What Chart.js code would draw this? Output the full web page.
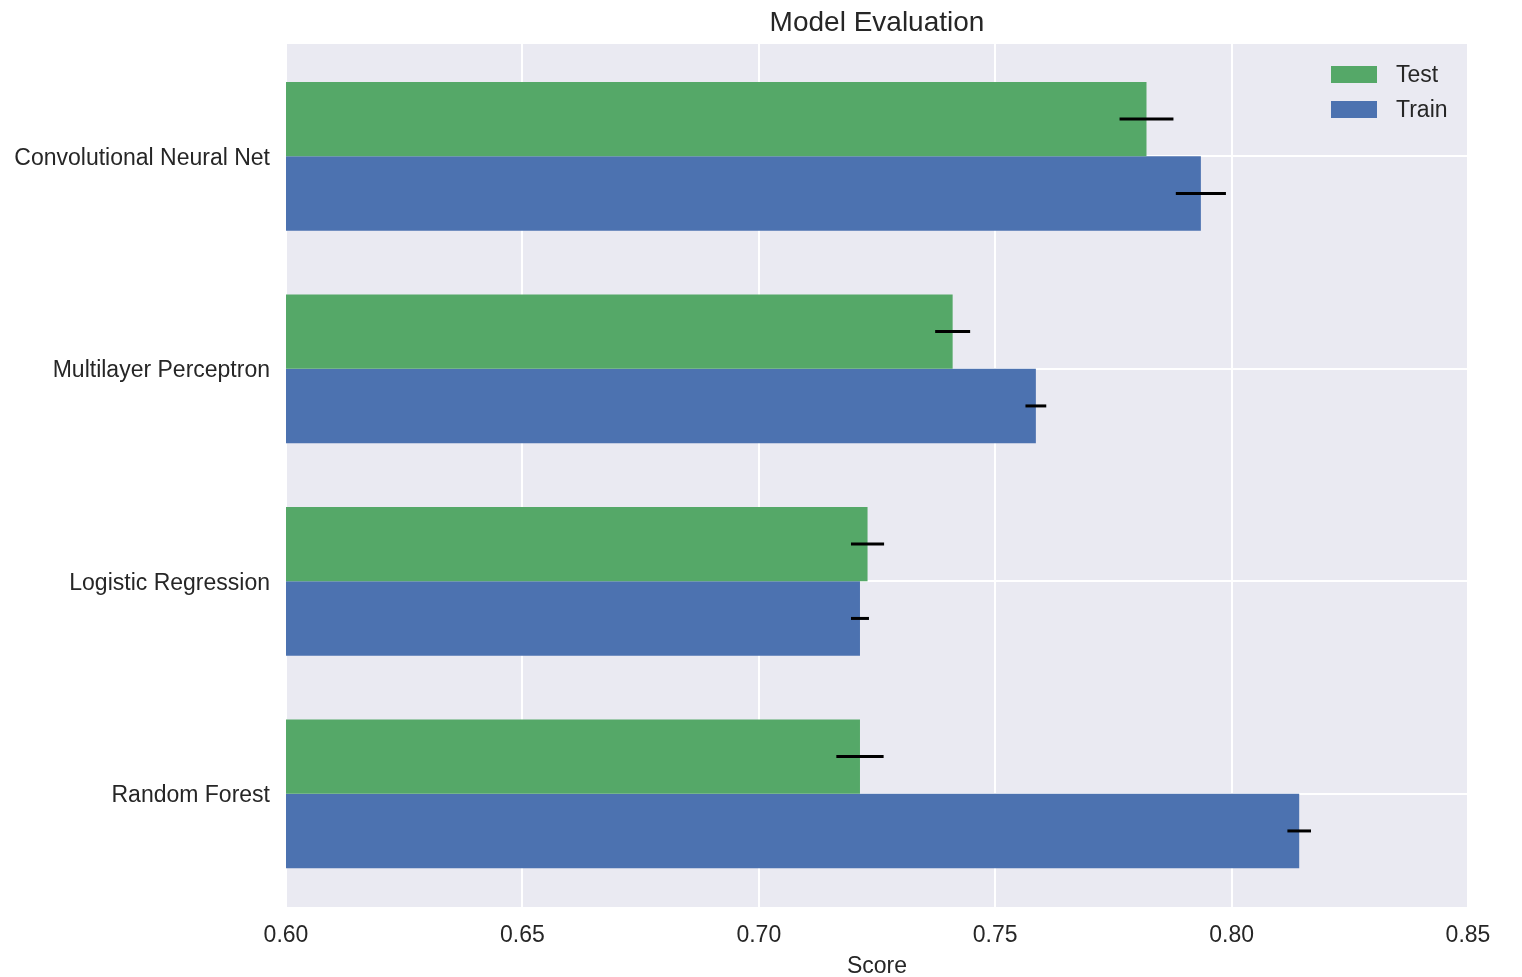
<!DOCTYPE html>
<html>
<head>
<meta charset="utf-8">
<script src="https://cdn.jsdelivr.net/npm/chart.js@4"></script>
<style>
  html, body { margin: 0; padding: 0; background: #fff; }
  #wrap { width: 1522px; height: 977px; }
</style>
</head>
<body>
<div id="wrap"><canvas id="evalChart" width="1522" height="977"></canvas></div>
<script>
const categories = ['Convolutional Neural Net', 'Multilayer Perceptron', 'Logistic Regression', 'Random Forest'];
const testScores = [0.782, 0.741, 0.723, 0.7214];
const trainScores = [0.7935, 0.7586, 0.7214, 0.8143];
const testErr = [0.0057, 0.0037, 0.0035, 0.005];
const trainErr = [0.0053, 0.0022, 0.0019, 0.0025];
const xTicks = [0.60, 0.65, 0.70, 0.75, 0.80, 0.85];
const chartTitle = 'Model Evaluation';

const textColor = '#262626';
const font = 'Liberation Sans, Arial, sans-serif';
const padTop = 6, padBottom = 7; // panel sticks out a bit past the category band

// grey panel plus white grid lines
const panelBg = {
  id: 'panelBg',
  beforeDatasetsDraw(chart) {
    const { ctx, chartArea: a } = chart;
    const xs = chart.scales.x;
    const ys = chart.scales.y;
    const top = a.top - padTop, bottom = a.bottom + padBottom;
    ctx.save();
    ctx.fillStyle = '#EAEAF2';
    ctx.fillRect(a.left, top, a.right - a.left, bottom - top);
    ctx.strokeStyle = '#ffffff';
    ctx.lineWidth = 2;
    xTicks.forEach(v => {
      const x = Math.round(xs.getPixelForValue(v));
      ctx.beginPath();
      ctx.moveTo(x, top);
      ctx.lineTo(x, bottom);
      ctx.stroke();
    });
    categories.forEach((c, i) => {
      const y = Math.round(ys.getPixelForValue(i));
      ctx.beginPath();
      ctx.moveTo(a.left, y);
      ctx.lineTo(a.right, y);
      ctx.stroke();
    });
    ctx.restore();
  }
};

// black error bars at the end of each bar
const errorBars = {
  id: 'errorBars',
  afterDatasetsDraw(chart) {
    const { ctx } = chart;
    const xs = chart.scales.x;
    ctx.save();
    ctx.strokeStyle = '#000';
    ctx.lineWidth = 3;
    chart.data.datasets.forEach((ds, i) => {
      const meta = chart.getDatasetMeta(i);
      meta.data.forEach((bar, j) => {
        const v = ds.data[j];
        const e = ds.errors[j];
        ctx.beginPath();
        ctx.moveTo(xs.getPixelForValue(v - e), bar.y);
        ctx.lineTo(xs.getPixelForValue(v + e), bar.y);
        ctx.stroke();
      });
    });
    ctx.restore();
  }
};

// legend inside the panel (top right) and the title centred on the panel
const innerLegend = {
  id: 'innerLegend',
  afterDraw(chart) {
    const { ctx, chartArea: a } = chart;
    const top = a.top - padTop;
    ctx.save();
    ctx.font = '23px ' + font;
    ctx.textBaseline = 'middle';
    chart.data.datasets.forEach((ds, i) => {
      const y = top + 22 + i * 35;
      ctx.fillStyle = ds.backgroundColor;
      ctx.fillRect(a.right - 137, y, 46, 17);
      ctx.fillStyle = textColor;
      ctx.fillText(ds.label, a.right - 72, y + 10);
    });
    ctx.font = '28px ' + font;
    ctx.textAlign = 'center';
    ctx.fillText(chartTitle, (a.left + a.right) / 2, 23);
    ctx.restore();
  }
};

new Chart(document.getElementById('evalChart'), {
  type: 'bar',
  data: {
    labels: categories,
    datasets: [
      { label: 'Test', data: testScores, errors: testErr, backgroundColor: '#55A868' },
      { label: 'Train', data: trainScores, errors: trainErr, backgroundColor: '#4C72B0' }
    ]
  },
  options: {
    indexAxis: 'y',
    responsive: false,
    animation: false,
    barPercentage: 1,
    categoryPercentage: 0.70,
    layout: { padding: { left: 0, right: 54, top: 50, bottom: 0 } },
    scales: {
      x: {
        min: 0.60,
        max: 0.85,
        afterBuildTicks(scale) { scale.ticks = xTicks.map(v => ({ value: v })); },
        afterFit(scale) { scale.height = 77; },
        border: { display: false },
        grid: { display: false },
        ticks: {
          color: textColor,
          font: { family: font, size: 23 },
          padding: 14,
          callback: v => v.toFixed(2)
        },
        title: {
          display: true,
          text: 'Score',
          color: textColor,
          font: { family: font, size: 23 },
          padding: { top: 0, bottom: -3 }
        }
      },
      y: {
        afterFit(scale) { scale.width = 286; },
        border: { display: false },
        grid: { display: false },
        ticks: {
          color: textColor,
          font: { family: font, size: 23 },
          padding: 8,
          labelOffset: 2
        }
      }
    },
    plugins: {
      legend: { display: false },
      tooltip: { enabled: false },
      title: { display: false }
    }
  },
  plugins: [panelBg, errorBars, innerLegend]
});
</script>
</body>
</html>
